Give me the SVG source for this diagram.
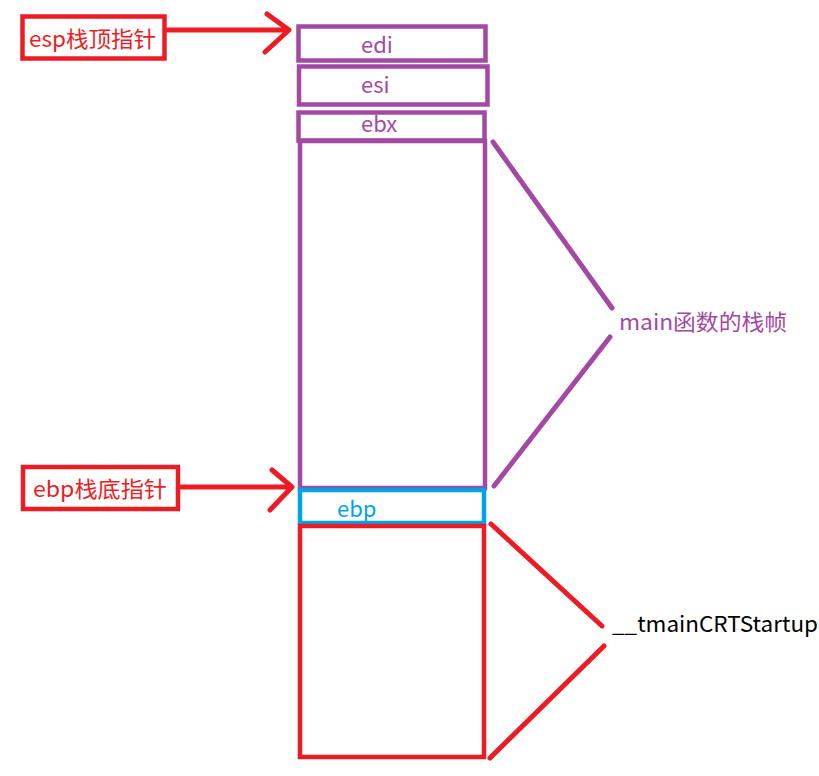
<svg xmlns="http://www.w3.org/2000/svg" width="819" height="776" viewBox="0 0 819 776">
<style>
.t{font-family:"Microsoft YaHei","Noto Sans CJK SC","Noto Sans",sans-serif;font-size:22px}
.p{stroke:#A349A4;fill:none;stroke-width:4.5}
.r{stroke:#ED1C24;fill:none;stroke-width:4.5}
.c{stroke:#00A2E8;fill:none;stroke-width:4.5}
.ln{fill:none;stroke-width:5;stroke-linecap:round;stroke-linejoin:round}
</style>
<rect width="819" height="776" fill="#fff"/>
<g id="esp-label">
<rect class="r" x="22.5" y="16.5" width="142" height="42"/>
<text class="t" x="29" y="47" fill="#ED1C24" textLength="127" lengthAdjust="spacingAndGlyphs">esp栈顶指针</text>
</g>
<g id="ebp-label">
<rect class="r" x="23" y="467" width="155" height="42"/>
<text class="t" x="33" y="497" fill="#ED1C24" textLength="134" lengthAdjust="spacingAndGlyphs">ebp栈底指针</text>
</g>
<g id="edi">
<rect class="p" x="298.5" y="26.5" width="187" height="34"/>
<text class="t" x="361" y="53" fill="#A349A4">edi</text>
</g>
<g id="esi">
<rect class="p" x="299" y="66.5" width="188.5" height="38"/>
<text class="t" x="361" y="93" fill="#A349A4">esi</text>
</g>
<g id="ebx">
<rect class="p" x="298.5" y="112.5" width="186" height="28"/>
<text class="t" x="361" y="132" fill="#A349A4">ebx</text>
</g>
<g id="main-frame">
<rect class="p" x="300" y="141" width="185" height="347"/>
</g>
<g id="ebp">
<rect class="c" x="300" y="490" width="184" height="33"/>
<text class="t" x="337" y="517" fill="#00A2E8">ebp</text>
</g>
<g id="crt-frame">
<rect class="r" x="300" y="526" width="184" height="231"/>
</g>
<g id="main-label">
<text class="t" x="619" y="330" fill="#A349A4" textLength="168" lengthAdjust="spacingAndGlyphs">main函数的栈帧</text>
</g>
<g id="crt-label">
<text class="t" x="612" y="632" fill="#000" textLength="206" lengthAdjust="spacingAndGlyphs">__tmainCRTStartup</text>
</g>
<g id="connectors">
<path class="ln" stroke="#ED1C24" d="M167 30H288M267 14L289 30L265 52"/>
<path class="ln" stroke="#ED1C24" d="M180 487H291M272 470L292 487L270 510"/>
<path class="ln" stroke="#A349A4" d="M493 142L612 308M610 337L494 486"/>
<path class="ln" stroke="#ED1C24" d="M491 524L602 626M604 646L490 758"/>
</g>
</svg>
